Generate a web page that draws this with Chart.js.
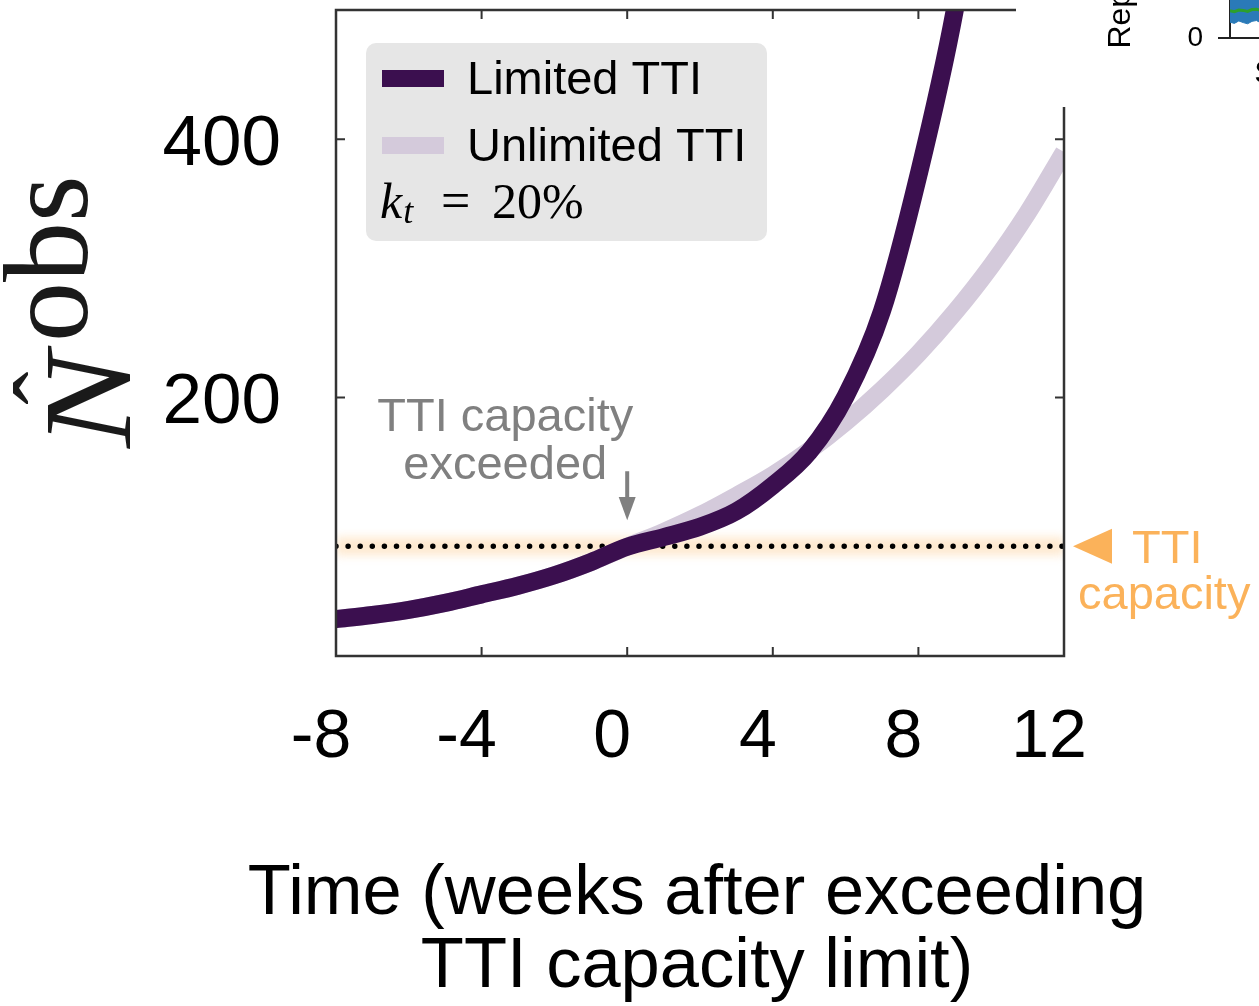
<!DOCTYPE html>
<html>
<head>
<meta charset="utf-8">
<title>Observed cases with limited and unlimited TTI</title>
<script src="https://cdn.jsdelivr.net/npm/chart.js@4.4.1/dist/chart.umd.min.js"></script>
<style>
  html, body { margin: 0; padding: 0; background: #fff; overflow: hidden; }
  #wrap { position: relative; width: 1259px; height: 1006px; overflow: hidden; }
  #main { position: absolute; left: 0; top: 0; }
  #side { position: absolute; left: 1016px; top: -194px; background: #fff; }
</style>
</head>
<body>
<div id="wrap">
  <canvas id="main" width="1259" height="1006"></canvas>
  <canvas id="side" width="400" height="301"></canvas>
</div>
<script>
// ---- data: observed new cases around the week TTI capacity is exceeded ----
const weeks        = [-8, -7, -6, -5, -4, -3, -2, -1, 0, 1, 2, 3, 4, 5, 6, 7, 8, 9, 10, 11, 12];
const limitedTTI   = [28.6, 31.7, 35.7, 41.1, 47.7, 54.4, 62.5, 72.7, 84.6, 92, 100, 112, 132, 158, 201, 267, 372, 500, 675, null, null];
const unlimitedTTI = [28.6, 31.7, 35.7, 41.1, 47.7, 54.4, 62.5, 72.7, 84.6, 96, 109, 124, 140, 159, 181, 206, 234, 266, 302, 343, 390];
const seriesNames  = ['Limited TTI', 'Unlimited TTI'];
const ttiCapacity  = 85;
const trackingShare = '20%';
const xTickValues  = [-8, -4, 0, 4, 8, 12];
const yTickValues  = [200, 400];
const xTitle       = ['Time (weeks after exceeding', 'TTI capacity limit)'];

// ---- data: neighbouring panel (reported cases) ----
const panelDays   = [0, 1, 2, 3, 4, 5, 6, 7, 8, 9, 10, 11, 12, 13, 14];
const casesUpper  = [240, 236, 250, 244, 238, 255, 260, 248, 252, 266, 270, 262, 275, 280, 272];
const casesMid    = [134, 130, 138, 136, 131, 140, 142, 137, 139, 146, 150, 144, 152, 155, 150];
const casesLower  = [78, 72, 84, 76, 70, 82, 86, 75, 80, 88, 92, 84, 90, 95, 88];
const panelYTicks = [0];
const panelXTicks = [12];
const panelXLabels = ['Sep'];

const SANS = '"Liberation Sans", Arial, sans-serif';
const SERIF = '"Liberation Serif", "Times New Roman", serif';
const DARK = '#3b0f4f';
const LIGHT = '#d4cadb';
const ORANGE = '#fbb25a';

Chart.defaults.font.family = SANS;

const pts = arr => weeks.map((w, i) => ({ x: w, y: arr[i] }));
const capLine = [{ x: weeks[0], y: ttiCapacity }, { x: weeks[weeks.length - 1], y: ttiCapacity }];

const decor = {
  id: 'decor',
  beforeDatasetDraw(chart, args) {
    if (chart.data.datasets[args.index].glow) {
      chart.ctx.save();
      chart.ctx.filter = 'blur(5px)';
    }
  },
  afterDatasetDraw(chart, args) {
    if (chart.data.datasets[args.index].glow) chart.ctx.restore();
  },
  afterDraw(chart) {
    const { ctx, chartArea: a, scales: { x, y } } = chart;
    ctx.save();

    // frame
    ctx.strokeStyle = '#333';
    ctx.lineWidth = 2.5;
    ctx.strokeRect(a.left, a.top, a.right - a.left, a.bottom - a.top);

    // inward tick marks on all four sides
    const tl = 9;
    ctx.lineWidth = 2;
    ctx.beginPath();
    x.ticks.forEach(t => {
      const px = x.getPixelForValue(t.value);
      if (px <= a.left + 1 || px >= a.right - 1) return;
      ctx.moveTo(px, a.bottom); ctx.lineTo(px, a.bottom - tl);
      ctx.moveTo(px, a.top);    ctx.lineTo(px, a.top + tl);
    });
    y.ticks.forEach(t => {
      const py = y.getPixelForValue(t.value);
      ctx.moveTo(a.left, py);  ctx.lineTo(a.left + tl, py);
      ctx.moveTo(a.right, py); ctx.lineTo(a.right - tl, py);
    });
    ctx.stroke();

    // x-axis title, two centred lines
    ctx.fillStyle = '#000';
    ctx.font = '70.5px ' + SANS;
    ctx.textAlign = 'center';
    ctx.textBaseline = 'alphabetic';
    const xc = (a.left + a.right) / 2 - 3;
    xTitle.forEach((line, i) => ctx.fillText(line, xc, a.bottom + 258 + i * 73));

    // legend box
    const lx = a.left + 30, ly = a.top + 33;
    ctx.fillStyle = '#e6e6e6';
    ctx.beginPath();
    ctx.roundRect(lx, ly, 401, 198, 10);
    ctx.fill();
    ctx.textAlign = 'left';
    [chart.data.datasets[0], chart.data.datasets[1]].forEach((ds, i) => {
      const cy = ly + 35.5 + i * 67;
      ctx.fillStyle = ds.borderColor;
      ctx.fillRect(lx + 16, cy - 8.5, 62, 17);
      ctx.fillStyle = '#000';
      ctx.font = '47px ' + SANS;
      ctx.fillText(ds.label, lx + 101, cy + 15.5);
    });
    ctx.fillStyle = '#000';
    ctx.font = 'italic 50px ' + SERIF;
    ctx.fillText('k', lx + 14, ly + 175);
    const kw = ctx.measureText('k').width;
    ctx.font = 'italic 36px ' + SERIF;
    ctx.fillText('t', lx + 14 + kw + 1, ly + 180);
    ctx.font = '52px ' + SERIF;
    ctx.fillText('=', lx + 75, ly + 175);
    ctx.font = '50px ' + SERIF;
    ctx.fillText(trackingShare, lx + 126, ly + 175);

    // "TTI capacity exceeded" annotation with arrow at week 0
    const ax = x.getPixelForValue(0);
    const aTop = y.getPixelForValue(143), aBase = y.getPixelForValue(123), aTip = y.getPixelForValue(105);
    ctx.fillStyle = '#808080';
    ctx.fillRect(ax - 2, aTop, 4, aBase - aTop + 1);
    ctx.beginPath();
    ctx.moveTo(ax - 8.5, aBase); ctx.lineTo(ax + 8.5, aBase); ctx.lineTo(ax, aTip);
    ctx.closePath(); ctx.fill();
    ctx.font = '47px ' + SANS;
    ctx.textAlign = 'center';
    const tx = x.getPixelForValue(-3.35), ty = y.getPixelForValue(174);
    ctx.fillText('TTI capacity', tx, ty);
    ctx.fillText('exceeded', tx, ty + 48);

    // capacity marker outside the right axis
    const cyCap = y.getPixelForValue(ttiCapacity);
    ctx.fillStyle = ORANGE;
    ctx.beginPath();
    ctx.moveTo(a.right + 9, cyCap);
    ctx.lineTo(a.right + 48, cyCap - 17.5);
    ctx.lineTo(a.right + 48, cyCap + 17.5);
    ctx.closePath(); ctx.fill();
    ctx.textAlign = 'left';
    ctx.fillText('TTI', a.right + 68, cyCap + 17);
    ctx.fillText('capacity', a.right + 14, cyCap + 63);

    // y-axis title: N-hat with raised "obs"
    ctx.save();
    ctx.translate(130, 448);
    ctx.rotate(-Math.PI / 2);
    ctx.fillStyle = '#1a1a1a';
    ctx.textAlign = 'left';
    ctx.save();
    ctx.scale(1.15, 1);
    ctx.font = 'italic 125px ' + SERIF;
    ctx.fillText('N', 0, 0);
    ctx.restore();
    ctx.font = '100px ' + SERIF;
    ctx.textAlign = 'center';
    ctx.fillText('\u02C6', 60, -47);
    ctx.textAlign = 'left';
    ctx.font = '120px ' + SERIF;
    ctx.fillText('obs', 106, -43);
    ctx.restore();

    ctx.restore();
  }
};

new Chart(document.getElementById('main'), {
  type: 'line',
  data: {
    datasets: [
      { label: seriesNames[0], data: pts(limitedTTI), borderColor: DARK, borderWidth: 18,
        pointRadius: 0, cubicInterpolationMode: 'monotone', fill: false, order: 0 },
      { label: seriesNames[1], data: pts(unlimitedTTI), borderColor: LIGHT, borderWidth: 18,
        pointRadius: 0, cubicInterpolationMode: 'monotone', fill: false, order: 1 },
      { label: 'capacity', data: capLine, borderColor: '#000', borderWidth: 5.5,
        borderDash: [0, 12.1], borderCapStyle: 'round', pointRadius: 0, fill: false, order: 2 },
      { label: 'capacity band', data: capLine, borderColor: 'rgba(252,196,130,0.38)', borderWidth: 18,
        pointRadius: 0, fill: false, order: 3, glow: true }
    ]
  },
  options: {
    responsive: false,
    animation: false,
    devicePixelRatio: 1,
    layout: { padding: { left: 0, top: 10, right: 195, bottom: 0 } },
    plugins: { legend: { display: false }, tooltip: { enabled: false } },
    scales: {
      x: {
        type: 'linear', min: -8, max: 12,
        afterBuildTicks: s => { s.ticks = xTickValues.map(v => ({ value: v })); },
        afterFit: s => { s.height = 350; s.paddingLeft = 0; s.paddingRight = 0; },
        grid: { display: false }, border: { display: false },
        ticks: { font: { size: 68, lineHeight: 1 }, color: '#000', padding: 40,
                 labelOffset: -15, maxRotation: 0, autoSkip: false }
      },
      y: {
        type: 'linear', min: 0, max: 500,
        afterBuildTicks: s => { s.ticks = yTickValues.map(v => ({ value: v })); },
        afterFit: s => { s.width = 336; s.paddingTop = 0; s.paddingBottom = 0; },
        grid: { display: false }, border: { display: false },
        ticks: { font: { size: 71, lineHeight: 1 }, color: '#000', padding: 47, labelOffset: 6 }
      }
    }
  },
  plugins: [decor]
});

// neighbouring panel: reported cases with uncertainty band
const pp = arr => panelDays.map((d, i) => ({ x: d, y: arr[i] }));
new Chart(document.getElementById('side'), {
  type: 'line',
  data: {
    datasets: [
      { label: 'median', data: pp(casesMid), borderColor: '#2ca02c', borderWidth: 3, pointRadius: 0, fill: false },
      { label: 'upper', data: pp(casesUpper), borderColor: '#2a7ab8', borderWidth: 1, pointRadius: 0,
        fill: '+1', backgroundColor: '#2a7ab8' },
      { label: 'lower', data: pp(casesLower), borderColor: '#2a7ab8', borderWidth: 1, pointRadius: 0, fill: false }
    ]
  },
  options: {
    responsive: false,
    animation: false,
    devicePixelRatio: 1,
    layout: { padding: { left: 0, top: 0, right: 10, bottom: 0 } },
    plugins: { legend: { display: false }, tooltip: { enabled: false } },
    scales: {
      x: {
        type: 'linear', min: 0, max: 40,
        afterBuildTicks: s => { s.ticks = panelXTicks.map(v => ({ value: v })); },
        afterFit: s => { s.height = 69; },
        grid: { display: false },
        border: { display: true, color: '#222', width: 2 },
        ticks: { font: { size: 32, lineHeight: 1 }, color: '#000', padding: 12, maxRotation: 0,
                 callback: v => panelXLabels[panelXTicks.indexOf(v)] }
      },
      y: {
        type: 'linear', min: 0, max: 1000,
        afterBuildTicks: s => { s.ticks = panelYTicks.map(v => ({ value: v })); },
        afterFit: s => { s.width = 214; },
        grid: { display: true, drawOnChartArea: false, drawTicks: true, tickLength: 12, color: '#222', lineWidth: 2 },
        border: { display: true, color: '#222', width: 2 },
        ticks: { font: { size: 28, lineHeight: 1 }, color: '#000', padding: 15 },
        title: { display: true, text: 'Reported cases', color: '#000',
                 font: { size: 32, lineHeight: 1 }, padding: { top: 89.5, bottom: 0 } }
      }
    }
  }
});
</script>
</body>
</html>
